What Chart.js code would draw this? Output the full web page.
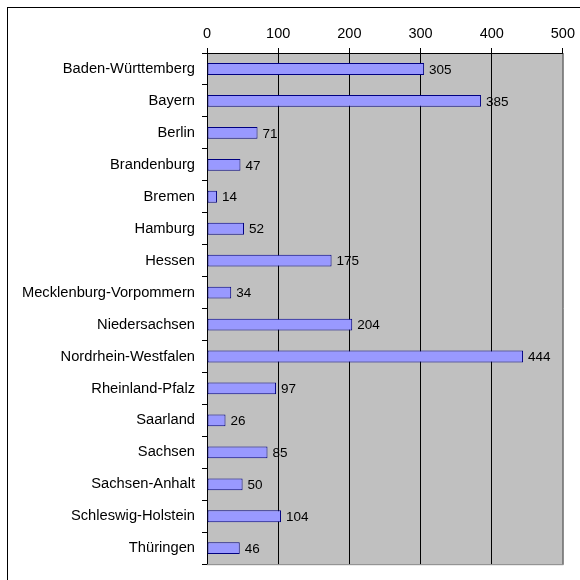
<!DOCTYPE html>
<html>
<head>
<meta charset="utf-8">
<script src="https://cdn.jsdelivr.net/npm/chart.js@4.4.1/dist/chart.umd.min.js"></script>
<style>
  html, body { margin: 0; padding: 0; background: #fff; }
  #wrap { position: relative; width: 580px; height: 580px; overflow: hidden; }
  #frame {
    position: absolute; left: 7px; top: 7px; width: 600px; height: 600px;
    border-left: 1px solid #000; border-top: 1px solid #000;
  }
  canvas { position: absolute; left: 0; top: 0; }
</style>
</head>
<body>
<div id="wrap">
  <div id="frame"></div>
  <canvas id="chart" width="580" height="580"></canvas>
</div>
<script>
/* ── data ── */
const states = [
  'Baden-Württemberg', 'Bayern', 'Berlin', 'Brandenburg', 'Bremen', 'Hamburg',
  'Hessen', 'Mecklenburg-Vorpommern', 'Niedersachsen', 'Nordrhein-Westfalen',
  'Rheinland-Pfalz', 'Saarland', 'Sachsen', 'Sachsen-Anhalt',
  'Schleswig-Holstein', 'Thüringen'
];
const values = [305, 385, 71, 47, 14, 52, 175, 34, 204, 444, 97, 26, 85, 50, 104, 46];
const xTicks = [0, 100, 200, 300, 400, 500];

const FONT = 'Liberation Sans, Arial, sans-serif';

/* grey plot area + grey right/bottom edge */
const plotBg = {
  id: 'plotBg',
  beforeDraw(chart) {
    const { ctx, chartArea: a } = chart;
    ctx.save();
    ctx.fillStyle = '#c0c0c0';
    ctx.fillRect(a.left, a.top, a.right - a.left, a.bottom - a.top);
    ctx.restore();
  },
  afterDraw(chart) {
    const { ctx, chartArea: a } = chart;
    ctx.save();
    ctx.strokeStyle = '#808080';
    ctx.lineWidth = 1;
    ctx.beginPath();
    ctx.moveTo(a.left, a.bottom + 0.5);
    ctx.lineTo(a.right + 0.5, a.bottom + 0.5);
    ctx.lineTo(a.right + 0.5, a.top);
    ctx.stroke();
    ctx.restore();
  }
};

/* value labels right of each bar */
const barLabels = {
  id: 'barLabels',
  afterDatasetsDraw(chart) {
    const { ctx } = chart;
    const meta = chart.getDatasetMeta(0);
    ctx.save();
    ctx.fillStyle = '#000';
    ctx.font = '13.5px ' + FONT;
    ctx.textBaseline = 'middle';
    ctx.textAlign = 'left';
    meta.data.forEach((bar, i) => {
      ctx.fillText(String(values[i]), bar.x + 5, bar.y + 1);
    });
    ctx.restore();
  }
};

new Chart(document.getElementById('chart'), {
  type: 'bar',
  data: {
    labels: states,
    datasets: [{
      data: values,
      backgroundColor: '#9999ff',
      borderColor: '#000080',
      borderWidth: 1,
      borderSkipped: false,
      barPercentage: 0.74,
      categoryPercentage: 0.5,
    }]
  },
  options: {
    indexAxis: 'y',
    responsive: false,
    animation: false,
    events: [],
    layout: { padding: { left: 0, top: 0, right: 14, bottom: 11 } },
    plugins: { legend: { display: false }, tooltip: { enabled: false } },
    scales: {
      x: {
        position: 'top',
        min: 0, max: 500,
        afterBuildTicks: s => { s.ticks = xTicks.map(v => ({ value: v })); },
        afterFit: s => { s.height = 53; },
        ticks: { color: '#000', font: { family: FONT, size: 14.5 }, padding: 5 },
        grid: {
          color: c => (c.tick && c.tick.value === 500) ? '#808080' : '#000',
          tickColor: '#000',
          tickLength: 5,
          lineWidth: 1,
        },
        border: { display: true, color: '#000', width: 1 },
      },
      y: {
        afterFit: s => { s.width = 207; },
        ticks: { color: '#000', font: { family: FONT, size: 14.7 }, padding: 7 },
        grid: {
          offset: true,
          drawOnChartArea: false,
          color: '#000',
          tickLength: 5,
        },
        border: { display: true, color: '#000', width: 1 },
      }
    }
  },
  plugins: [plotBg, barLabels]
});
</script>
</body>
</html>
